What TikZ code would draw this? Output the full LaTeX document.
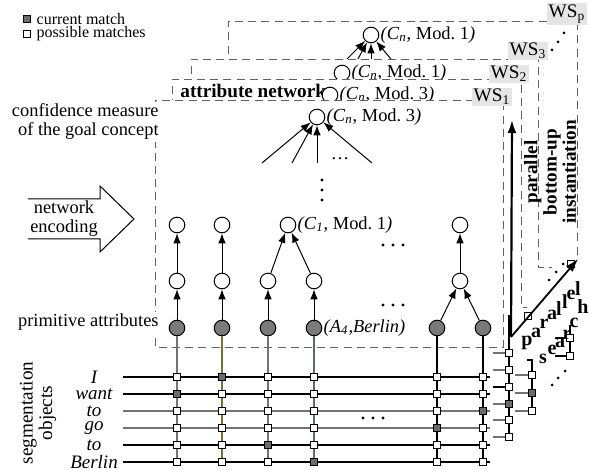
\documentclass[tikz,border=0pt]{standalone}
\usepackage{fontspec}
\setmainfont{Liberation Serif}
\usetikzlibrary{arrows.meta,positioning}

\newcommand\unitlabel[2]{\textit{(C}\textsubscript{\textit{#1}}, Mod.~#2\textit{)}}

\begin{document}
\begin{tikzpicture}
		[x=0.5pt,y=-0.5pt,
		%Styles
		every node/.style={font=\fontsize{9.2}{9.5}\selectfont},
		unit/.style={circle,draw,fill=white,minimum size=7.8pt,inner sep=0pt,line width=0.5pt},
		prim unit/.style={unit,fill=primcolor},
		match/.style={draw,fill=white,minimum size=3.6pt,inner sep=0pt,line width=0.5pt},
		current match/.style={match,fill=matchcolor},
		ws frame/.style={draw=framecolor,dash pattern=on 4pt off 2.6pt,line width=0.45pt},
		ws label/.style={fill=gray!20,inner sep=0.7pt,font=\fontsize{9.6}{10}\selectfont},
		link/.style={-{Latex[length=5pt,width=3.8pt]},line width=0.5pt},
		wire/.style={line width=0.55pt},
		legend text/.style={font=\fontsize{8}{8.5}\selectfont,inner sep=0pt},
		bold text/.style={font=\fontsize{9.6}{9.8}\selectfont\bfseries},
		word/.style={font=\fontsize{9.5}{10}\selectfont\itshape,inner sep=0pt},
		step letter/.style={font=\fontsize{10}{10}\selectfont\bfseries,inner sep=0pt}
		]
		
		%Colors
		\colorlet{primcolor}{black!52}
		\colorlet{matchcolor}{black!58}
		\colorlet{framecolor}{black!62}
		\colorlet{wiregray}{black!55}
		\definecolor{wireolive}{RGB}{118,116,40}
		\definecolor{wireslate}{RGB}{90,104,120}
		
		\useasboundingbox (0,0) rectangle (590,470);
		
		%Legend
		\node[current match] (legcur) at (27,19) {};
		\node[match] (legpos) at (27,34) {};
		\node[legend text,right=2.6pt of legcur] {current match};
		\node[legend text,right=2.6pt of legpos] {possible matches};
		
		%The working spaces, back to front
		\fill[white] (228,21) rectangle (577,258);
		\draw[ws frame] (228,80) -- (228,21) -- (577,21) -- (577,258);
		\node[ws label] (wsp) at (567,14) {WS\textsubscript{p}};
		\node[unit] (cnp) at (371,35) {};
		\node[right=0.5pt of cnp,inner sep=0pt] {\unitlabel{n}{1}};
		\foreach \i/\x in {1/336,2/352,3/371,4/400}
		{
			\coordinate (inp\i) at (\x,70);
			\draw[link] (inp\i) -- (cnp);
		}
		\foreach \x/\y in {552/50,558/42,564/33}
			\fill (\x,\y) circle (1.5);
		
		\fill[white] (191,59) rectangle (538,267);
		\draw[ws frame] (191,100) -- (191,59) -- (538,59) -- (538,267) -- (552,267);
		\node[ws label] (ws3) at (528,51) {WS\textsubscript{3}};
		\node[unit] (cn3) at (342,73) {};
		\node[right=0.5pt of cn3,inner sep=0pt] {\unitlabel{n}{1}};
		
		\fill[white] (172,79) rectangle (521,307);
		\draw[ws frame] (172,120) -- (172,79) -- (521,79) -- (521,307) -- (527,307);
		\node[ws label] (ws2) at (509,74) {WS\textsubscript{2}};
		\node[bold text,anchor=base west,inner sep=0pt] (attnet) at (180,98) {attribute network};
		\node[unit] (cn2) at (330,95) {};
		\node[right=0.5pt of cn2,inner sep=0pt] {\unitlabel{n}{3}};
		
		\draw[ws frame,fill=white] (155,100) rectangle (503,347);
		\node[ws label] (ws1) at (492,97) {WS\textsubscript{1}};
		
		%Texts on the left
		\node[align=right,anchor=east,fill=white,inner sep=1pt] (conf) at (161,122) {confidence measure\\of the goal concept};
		\node[anchor=east,fill=white,inner sep=1pt] (primtext) at (161,322) {primitive attributes};
		\draw[line width=0.5pt] (28,199) -- (100,199) -- (100,186) -- (134,219) -- (100,252) -- (100,239) -- (28,239);
		\node[align=center] (enc) at (64,219) {network\\encoding};
		\node[rotate=90,align=center,inner sep=0pt,font=\fontsize{9.6}{8}\selectfont] (segobj) at (38,413) {segmentation\\objects};
		
		%Attribute network of WS_1
		\foreach \i/\x in {1/177,2/222,3/268,4/314,5/437,6/483}
			\node[prim unit] (g\i) at (\x,328) {};
		\foreach \i/\x in {1/177,2/222,3/268,4/314,5/460}
			\node[unit] (m\i) at (\x,281) {};
		\foreach \i/\x in {1/177,2/222,3/288,4/460}
			\node[unit] (t\i) at (\x,225) {};
		\node[unit] (cn1) at (317,117) {};
		\node[right=0.5pt of cn1,inner sep=0pt] {\unitlabel{n}{3}};
		\node[right=0.5pt of t3,inner sep=0pt] {\unitlabel{1}{1}};
		\node[right=0.5pt of g4,inner sep=0pt] {\textit{(A\textsubscript{4},Berlin)}};
		
		\foreach \i in {1,...,4}
			\draw[link] (g\i) -- (m\i);
		\draw[link] (g5) -- (m5);
		\draw[link] (g6) -- (m5);
		\draw[link] (m1) -- (t1);
		\draw[link] (m2) -- (t2);
		\draw[link] (m3) -- (t3);
		\draw[link] (m4) -- (t3);
		\draw[link] (m5) -- (t4);
		\foreach \i/\x in {1/262,2/292,3/317,4/372}
		{
			\coordinate (in\i) at (\x,163);
			\draw[link] (in\i) -- (cn1);
		}
		\node (moreinputs) at (340,159) {\dots};
		\foreach \y in {180,190,200}
			\fill (322,\y) circle (1.6);
		\foreach \y in {245,305,418}
			\foreach \dx in {-10,0,10}
				\fill ({(\y==418 ? 373 : 393)+\dx},\y) circle (1.6);
		
		%Segmentation objects and their matches
		\foreach \r/\y/\w in {1/377/I,2/394/want,3/411/to,4/428/go,5/445/to,6/462/Berlin}
		{
			\node[word] (w\r) at (94,\y) {\w};
			\coordinate (rs\r) at (123,\y);
			\coordinate (re\r) at (490,\y);
		}
		\foreach \r/\col in {1/black,2/black,3/wiregray,4/wiregray,5/black,6/black}
			\draw[wire,\col] (rs\r) -- (re\r);
		\foreach \c/\col in {1/wiregray,2/wireolive,3/wiregray,4/wireslate,5/black,6/black}
			\draw[wire,\col] (g\c) -- (g\c |- rs6);
		\foreach \c/\x/\g in {1/177/2,2/222/1,3/268/5,4/314/6,5/437/4,6/483/3}
			\foreach \r/\y in {1/377,2/394,3/411,4/428,5/445,6/462}
			{
				\ifnum\r=\g
					\node[current match] (sq\c-\r) at (\x,\y) {};
				\else
					\node[match] (sq\c-\r) at (\x,\y) {};
				\fi
			}
		
		%Matches of the other working spaces
		\coordinate (top2) at (509,315);
		\coordinate (top3) at (532,360);
		\coordinate (topp) at (570,325);
		\draw[wire] (top2) -- (509,437);
		\draw[wire] (527,360) -- (top3) -- (532,411);
		\draw[wire] (topp) -- (570,356);
		\foreach \r/\y/\col in {1/353/wiregray,2/370/wiregray,3/387/black,4/404/wiregray,5/420/wiregray,6/437/wiregray}
		{
			\coordinate (st2-\r) at (493,\y);
			\draw[wire,\col] (st2-\r) -- (509,\y);
			\ifnum\r=4
				\node[current match] (sq2-\r) at (509,\y) {};
			\else
				\node[match] (sq2-\r) at (509,\y) {};
			\fi
		}
		\foreach \r/\y in {1/375,2/393,3/411}
		{
			\coordinate (st3-\r) at (515,\y);
			\draw[wire,wiregray] (st3-\r) -- (532,\y);
			\ifnum\r=2
				\node[current match] (sq3-\r) at (532,\y) {};
			\else
				\node[match] (sq3-\r) at (532,\y) {};
			\fi
		}
		\foreach \r/\y in {1/338,2/356}
		{
			\coordinate (stp-\r) at (555,\y);
			\draw[wire] (stp-\r) -- (570,\y);
			\node[match] (sqp-\r) at (570,\y) {};
		}
		\foreach \x/\y in {552/385,558/378,565/371,549/280,556/272,563/264}
			\fill (\x,\y) circle (1.5);
		
		%Parallel instantiation and search
		\coordinate (base) at (511,337);
		\coordinate (uptip) at (512,120);
		\coordinate (searchtip) at (578,259);
		\node[match] (pos2) at (528,316) {};
		\node[match] (posp) at (571,264) {};
		\draw[-{Latex[length=6.5pt,width=4.5pt]},line width=1.1pt] (base) -- (uptip);
		\draw[-{Latex[length=6.5pt,width=4.5pt]},line width=0.9pt] (base) -- (searchtip);
		\node[rotate=90,align=center,font=\fontsize{9.6}{9.6}\selectfont\bfseries] (inst) at (550,172) {parallel\\bottom-up\\instantiation};
		\foreach \l/\x/\y in {p/527/343,a/536/333,r/544/324,a/552/315,l/559/309,l/565/302,e/571/295,l/578/289,
			s/543/359,e/552/350,a/560/343,r/567/335,c/574/323,h/583/307}
			\node[step letter] at (\x,\y) {\l};
	\end{tikzpicture}
\end{document}
